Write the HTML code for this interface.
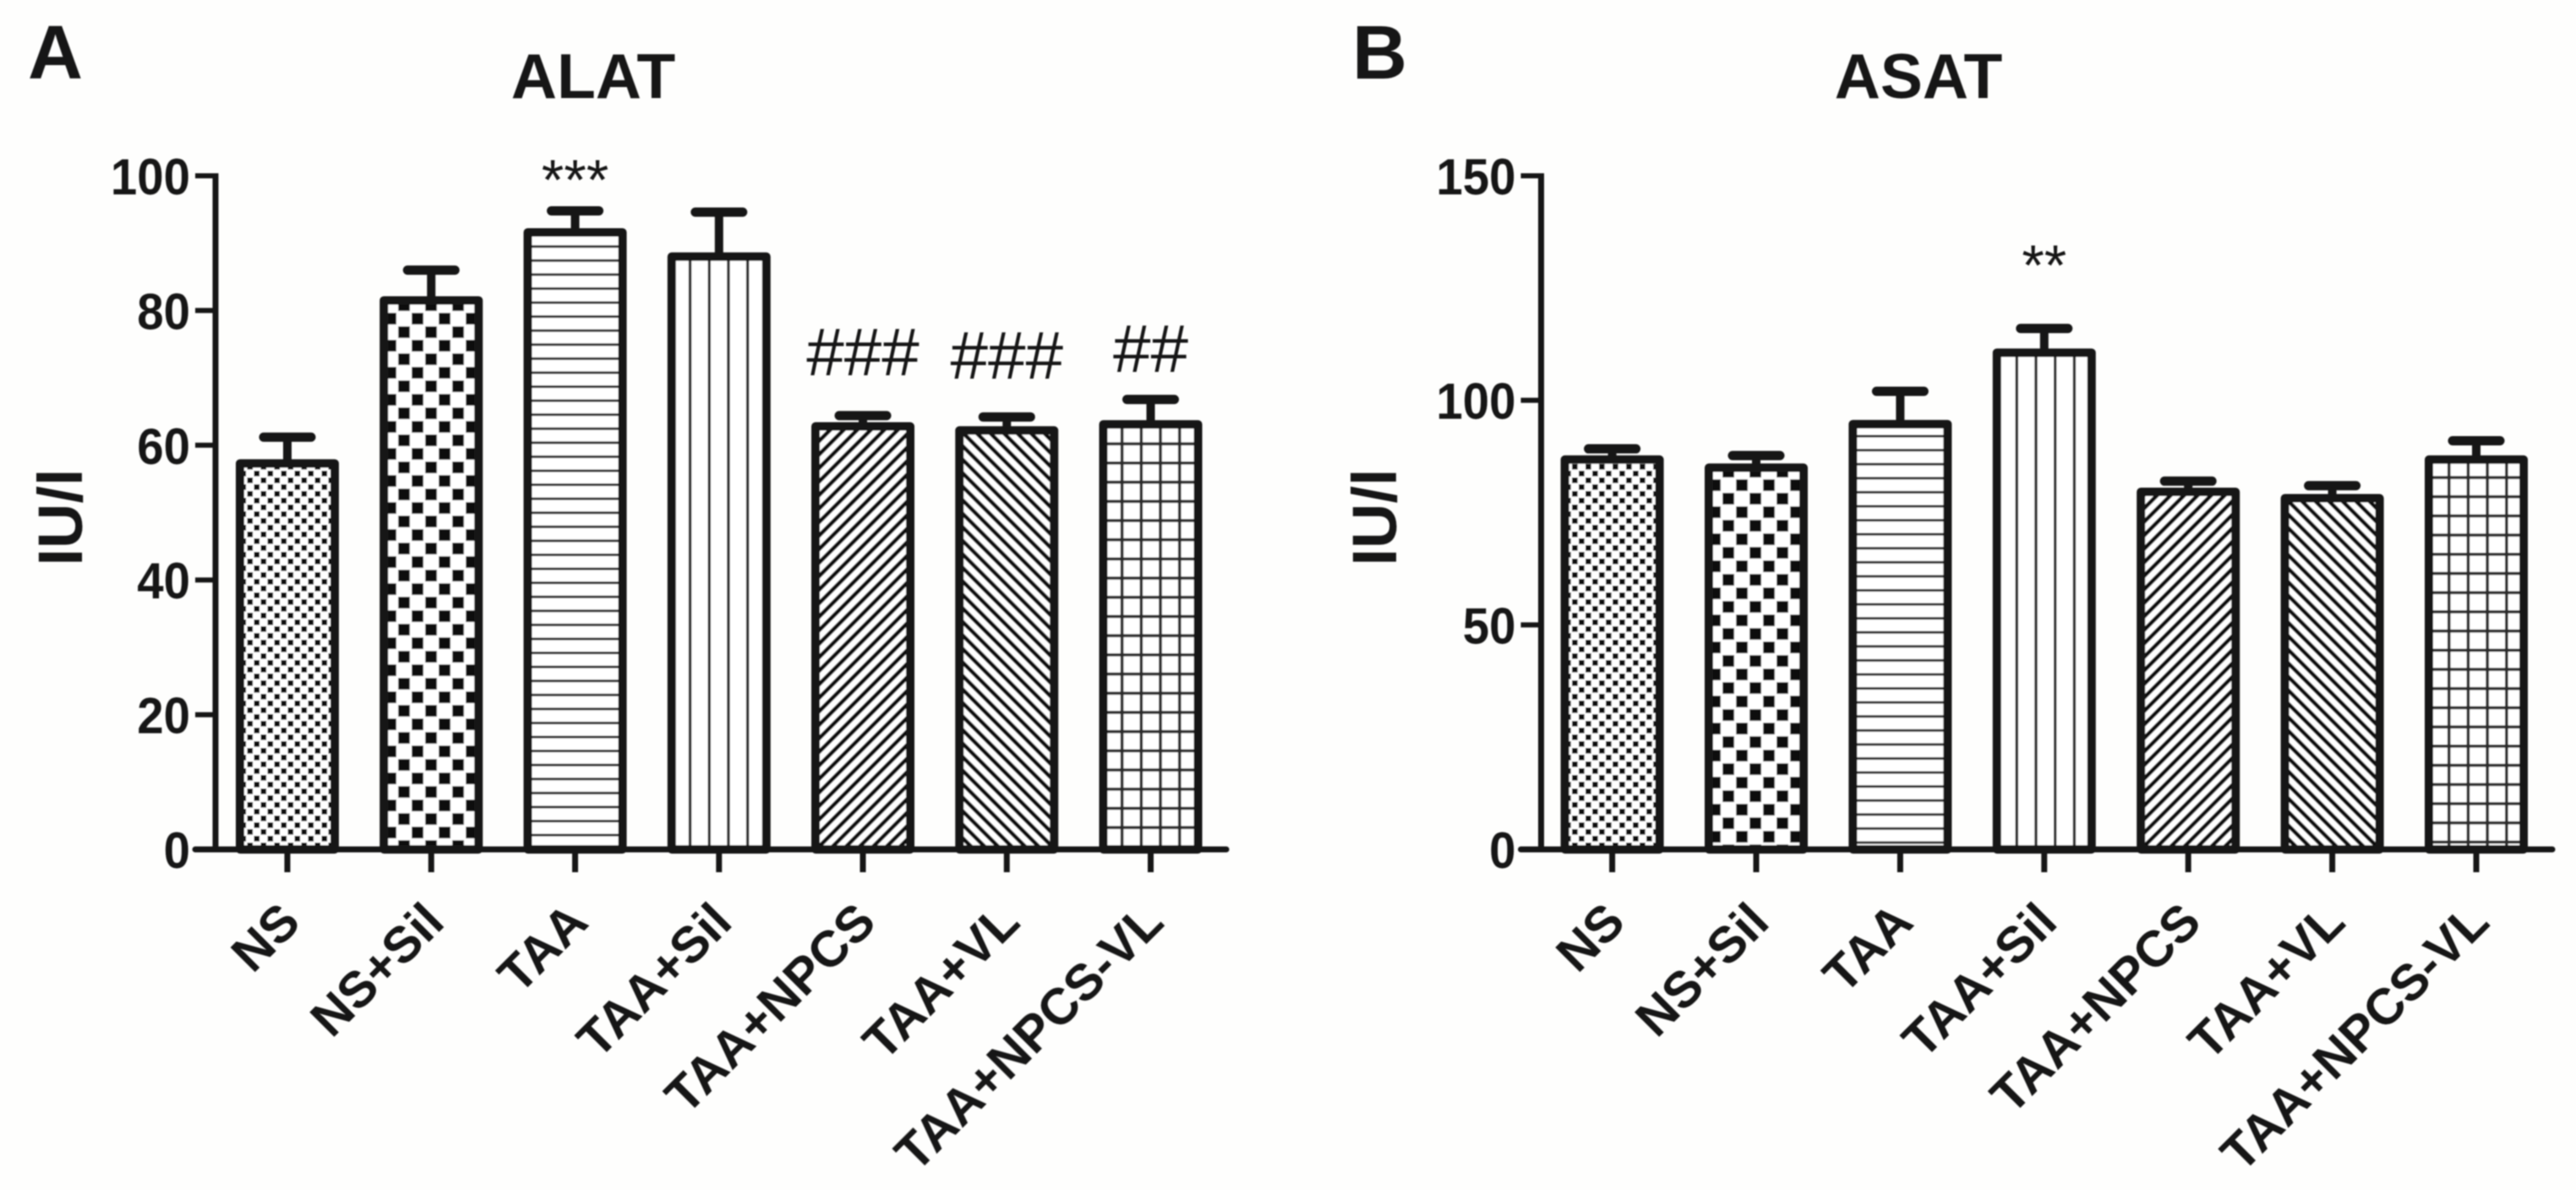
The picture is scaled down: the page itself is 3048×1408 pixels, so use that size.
<!DOCTYPE html>
<html>
<head>
<meta charset="utf-8">
<title>ALAT and ASAT bar charts</title>
<style>
  html, body { margin: 0; padding: 0; background: #fefefd; }
  svg { display: block; }
  text { font-family: "Liberation Sans", sans-serif; fill: #161616; }
</style>
</head>
<body>
<svg id="figure" xmlns="http://www.w3.org/2000/svg" width="3048" height="1408" viewBox="0 0 3048 1408">
  <defs>
    <filter id="soft" filterUnits="userSpaceOnUse" x="0" y="0" width="3048" height="1408">
      <feGaussianBlur stdDeviation="0.9"/>
    </filter>

    <pattern id="a-dots" patternUnits="userSpaceOnUse" width="16" height="16" patternTransform="translate(292.5 725)">
      <rect width="16" height="16" fill="#fff"/><rect width="6.6" height="6.6" fill="#111"/><rect x="8" y="8" width="6.6" height="6.6" fill="#111"/>
    </pattern>
    <pattern id="b-dots" patternUnits="userSpaceOnUse" width="16" height="16" patternTransform="translate(1860.1 725)">
      <rect width="16" height="16" fill="#fff"/><rect width="6.6" height="6.6" fill="#111"/><rect x="8" y="8" width="6.6" height="6.6" fill="#111"/>
    </pattern>

    <pattern id="a-checker" patternUnits="userSpaceOnUse" width="32" height="32" patternTransform="translate(471.25 706.25)">
      <rect width="32" height="32" fill="#fff"/><rect width="13.6" height="13.6" fill="#111"/><rect x="16" y="16" width="13.6" height="13.6" fill="#111"/>
    </pattern>
    <pattern id="b-checker" patternUnits="userSpaceOnUse" width="32" height="32" patternTransform="translate(2038.25 903.25)">
      <rect width="32" height="32" fill="#fff"/><rect width="13.6" height="13.6" fill="#111"/><rect x="16" y="16" width="13.6" height="13.6" fill="#111"/>
    </pattern>

    <pattern id="a-horizontal" patternUnits="userSpaceOnUse" width="16.58" height="16.58" patternTransform="translate(0 290.2)">
      <rect width="16.58" height="16.58" fill="#fff"/><rect width="16.58" height="3" fill="#2a2a2a"/>
    </pattern>
    <pattern id="b-horizontal" patternUnits="userSpaceOnUse" width="16.58" height="16.58" patternTransform="translate(0 912.5)">
      <rect width="16.58" height="16.58" fill="#fff"/><rect width="16.58" height="3" fill="#2a2a2a"/>
    </pattern>

    <pattern id="a-vertical" patternUnits="userSpaceOnUse" width="22.7" height="22.7" patternTransform="translate(860.2 0)">
      <rect width="22.7" height="22.7" fill="#fff"/><rect width="3.4" height="22.7" fill="#2a2a2a"/>
    </pattern>
    <pattern id="b-vertical" patternUnits="userSpaceOnUse" width="22.7" height="22.7" patternTransform="translate(2407.3 0)">
      <rect width="22.7" height="22.7" fill="#fff"/><rect width="3.4" height="22.7" fill="#2a2a2a"/>
    </pattern>

    <pattern id="up-stripes" patternUnits="userSpaceOnUse" width="11.31" height="11.31" patternTransform="rotate(45)">
      <rect width="11.31" height="11.31" fill="#fff"/><rect width="4.8" height="11.31" fill="#111"/>
    </pattern>
    <pattern id="down-stripes" patternUnits="userSpaceOnUse" width="11.31" height="11.31" patternTransform="rotate(-45)">
      <rect width="11.31" height="11.31" fill="#fff"/><rect width="4.8" height="11.31" fill="#111"/>
    </pattern>

    <pattern id="a-grid" patternUnits="userSpaceOnUse" width="22.7" height="22.7" patternTransform="translate(1371.2 523.3)">
      <rect width="22.7" height="22.7" fill="#fff"/><rect width="3.6" height="22.7" fill="#2a2a2a"/><rect width="22.7" height="3.6" fill="#2a2a2a"/>
    </pattern>
    <pattern id="b-grid" patternUnits="userSpaceOnUse" width="22.7" height="22.7" patternTransform="translate(2918.6 563.2)">
      <rect width="22.7" height="22.7" fill="#fff"/><rect width="3.6" height="22.7" fill="#2a2a2a"/><rect width="22.7" height="3.6" fill="#2a2a2a"/>
    </pattern>
  </defs>
  <rect width="3048" height="1408" fill="#fefefd"/>
  <g id="root" filter="url(#soft)"></g>
</svg>

<script>
const categories = ['NS', 'NS+Sil', 'TAA', 'TAA+Sil', 'TAA+NPCS', 'TAA+VL', 'TAA+NPCS-VL'];
const hatchNames = ['dots', 'checker', 'horizontal', 'vertical', 'up-stripes', 'down-stripes', 'grid'];

const alatMeans = [57.3, 81.5, 91.6, 88, 62.8, 62.2, 63.1];
const alatUppers = [61.2, 86, 94.8, 94.6, 64.4, 64.2, 66.8];
const alatTicks = [0, 20, 40, 60, 80, 100];
const alatMarks = ['', '', '***', '', '###', '###', '##'];
const alatMarkLevels = [0, 0, 96.5, 0, 70.4, 69.9, 70.9];

const asatMeans = [86.8, 85, 94.7, 110.6, 79.6, 78.2, 86.8];
const asatUppers = [89.2, 87.7, 102, 116, 82, 81, 91];
const asatTicks = [0, 50, 100, 150];
const asatMarks = ['', '', '', '**', '', '', ''];
const asatMarkLevels = [0, 0, 0, 125.7, 0, 0, 0];

const SVG_NS = 'http://www.w3.org/2000/svg';
const root = document.getElementById('root');
const INK = '#161616';

function make(parent, tag, attrs, content) {
  const el = document.createElementNS(SVG_NS, tag);
  for (const key in attrs) el.setAttribute(key, attrs[key]);
  if (content !== undefined) el.textContent = content;
  parent.appendChild(el);
  return el;
}

function drawPanel(cfg) {
  const panel = make(root, 'g', {});
  
  

  const yScale = v => cfg.y0 - (v / cfg.yMax) * (cfg.y0 - cfg.yTop);
  const xScale = i => cfg.x0 + i * cfg.dx;

  let el = make(panel, 'text', { x: cfg.letterX, y: 93, 'font-size': 90, 'font-weight': 'bold' }, cfg.letter);
  
  

  el = make(panel, 'text', { x: cfg.titleX, y: 116, 'font-size': 75, 'font-weight': 'bold', 'text-anchor': 'middle' }, cfg.title);
  
  

  el = make(panel, 'text', { transform: 'translate(' + cfg.ylabelX + ' 612) rotate(-90)', 'font-size': 74, 'font-weight': 'bold', 'text-anchor': 'middle' }, 'IU/l');
  
  

  categories.forEach((name, i) => {
    const c = xScale(i);
    const top = yScale(cfg.means[i]);
    const cap = yScale(cfg.uppers[i]);

    const stem = make(panel, 'line', { x1: c, x2: c, y1: top, y2: cap, stroke: INK, 'stroke-width': 10 });
    
    

    const capLine = make(panel, 'line', { x1: c - 28, x2: c + 28, y1: cap, y2: cap, stroke: INK, 'stroke-width': 11, 'stroke-linecap': 'round' });
    
    

    const hatch = hatchNames[i];
    const patternId = hatch.indexOf('stripes') >= 0 ? hatch : cfg.key + '-' + hatch;
    const bar = make(panel, 'rect', {
      x: c - 56, y: top, width: 112, height: yScale(0) - top,
      fill: 'url(#' + patternId + ')', stroke: INK, 'stroke-width': 10, 'stroke-linejoin': 'round'
    });
    
    

    if (cfg.marks[i]) {
      const isHash = cfg.marks[i].charAt(0) === '#';
      const mark = make(panel, 'text', {
        x: c, y: yScale(cfg.markLevels[i]),
        'font-size': isHash ? 80 : 68, 'text-anchor': 'middle'
      }, cfg.marks[i]);
      
      
    }

    const tick = make(panel, 'line', { x1: c, x2: c, y1: yScale(0), y2: 1032, stroke: INK, 'stroke-width': 7 });
    
    

    const label = make(panel, 'text', {
      transform: 'translate(' + (c + 18) + ' 1094) rotate(-45)',
      'font-size': 60, 'font-weight': 'bold', 'text-anchor': 'end'
    }, name);
    
    
  });

  const yAxis = make(panel, 'line', { x1: cfg.axisX, x2: cfg.axisX, y1: yScale(cfg.yMax) - 3, y2: yScale(0), stroke: INK, 'stroke-width': 7 });
  
  

  const xAxis = make(panel, 'line', { x1: cfg.axisX - 24, x2: cfg.axisEnd, y1: yScale(0), y2: yScale(0), stroke: INK, 'stroke-width': 7, 'stroke-linecap': 'round' });
  
  

  cfg.ticks.forEach(t => {
    const y = yScale(t);
    const tick = make(panel, 'line', { x1: cfg.axisX - 24, x2: cfg.axisX + 3, y1: y, y2: y, stroke: INK, 'stroke-width': 6 });
    
    

    const label = make(panel, 'text', {
      transform: 'translate(' + (cfg.axisX - 30) + ' ' + (y + 22) + ') scale(0.94 1)',
      'font-size': 60, 'font-weight': 'bold', 'text-anchor': 'end'
    }, String(t));
    
    
  });
}

drawPanel({
  key: 'a', letter: 'A', letterX: 33, title: 'ALAT', titleX: 702, ylabelX: 97,
  axisX: 255, axisEnd: 1451, x0: 340, dx: 170.25, y0: 1005, yTop: 208, yMax: 100,
  means: alatMeans, uppers: alatUppers, ticks: alatTicks, marks: alatMarks, markLevels: alatMarkLevels
});

drawPanel({
  key: 'b', letter: 'B', letterX: 1600, title: 'ASAT', titleX: 2270, ylabelX: 1652,
  axisX: 1823.5, axisEnd: 3020, x0: 1907.6, dx: 170.4, y0: 1005, yTop: 208, yMax: 150,
  means: asatMeans, uppers: asatUppers, ticks: asatTicks, marks: asatMarks, markLevels: asatMarkLevels
});
</script>
</body>
</html>
